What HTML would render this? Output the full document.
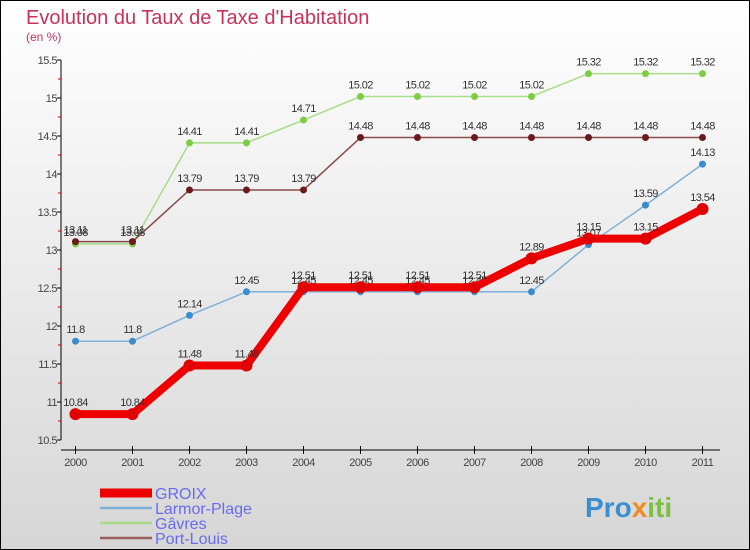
<!DOCTYPE html>
<html><head><meta charset="utf-8"><style>
body{margin:0}
#c{width:750px;height:550px;position:relative;box-sizing:border-box;border:1px solid #000;background:linear-gradient(#fff,#d6d6d6);font-family:"Liberation Sans",sans-serif;overflow:hidden}
</style></head><body>
<div id="c">
<svg id="s" width="750" height="550" style="position:absolute;left:-1px;top:-1px">
<text x="26" y="24" font-size="20" fill="#c8325a">Evolution du Taux de Taxe d'Habitation</text>
<text x="26" y="41" font-size="12" fill="#c8325a">(en %)</text>
<g id="axes"></g><g id="series"></g><g id="legend"></g>
<text x="585" y="517" font-size="28" font-weight="bold" fill="#3a8fd0">Pro<tspan fill="#f08a20">x</tspan><tspan fill="#7bc043">iti</tspan></text>
</svg></div>
<script>
const years=["2000","2001","2002","2003","2004","2005","2006","2007","2008","2009","2010","2011"];
const yTicks=[10.5,11,11.5,12,12.5,13,13.5,14,14.5,15,15.5];
const groix=[10.84,10.84,11.48,11.48,12.51,12.51,12.51,12.51,12.89,13.15,13.15,13.54];
const larmor=[11.8,11.8,12.14,12.45,12.45,12.45,12.45,12.45,12.45,13.07,13.59,14.13];
const gavres=[13.08,13.08,14.41,14.41,14.71,15.02,15.02,15.02,15.02,15.32,15.32,15.32];
const portlouis=[13.11,13.11,13.79,13.79,13.79,14.48,14.48,14.48,14.48,14.48,14.48,14.48];
const NS="http://www.w3.org/2000/svg";
const X=i=>75.5+i*57, Y=v=>440-(v-10.5)*76;
function mk(t,a,p){const e=document.createElementNS(NS,t);for(const k in a)e.setAttribute(k,a[k]);p.appendChild(e);return e;}
const ax=document.getElementById('axes');
let l=mk('line',{x1:61,y1:60,x2:61,y2:440,stroke:'#000'},ax);
l=mk('line',{x1:61,y1:450,x2:720,y2:450,stroke:'#000'},ax);
yTicks.forEach((v,i)=>{mk('line',{x1:57,x2:61,y1:Y(v),y2:Y(v),stroke:'#000'},ax);
 if(i<yTicks.length-1)mk('line',{x1:58,x2:61,y1:Y(v+0.25),y2:Y(v+0.25),stroke:'#d00'},ax);
 const t=mk('text',{x:57,y:Y(v)+4,'font-size':11,fill:'#444','text-anchor':'end','letter-spacing':'-0.5'},ax);t.textContent=String(v);
 });
years.forEach((y,i)=>{mk('line',{x1:X(i),x2:X(i),y1:446,y2:454,stroke:'#000'},ax);
 const t=mk('text',{x:X(i),y:466,'font-size':11,fill:'#444','text-anchor':'middle','letter-spacing':'-0.5'},ax);t.textContent=y;
 });
const sg=document.getElementById('series');
function series(d,col,dot,w,r,name){const g=mk('g',{},sg);
 mk('polyline',{points:d.map((v,i)=>X(i)+','+Y(v)).join(' '),fill:'none',stroke:col,'stroke-width':w,'stroke-linejoin':'round'},g);
 d.forEach((v,i)=>{const c=mk('circle',{cx:X(i),cy:Y(v),r:r,fill:dot},g);
  const t=mk('text',{x:X(i),y:Y(v)-8,'font-size':11,fill:'#333','text-anchor':'middle','letter-spacing':'-0.6'},g);t.textContent=String(v);});}
series(larmor,'#7fb0d8','#3a8ccc',1.5,3.5,'larmor-plage-series');
series(gavres,'#a8dc88','#7ccc44',1.5,3.5,'gavres-series');
series(portlouis,'#8a4a4a','#6a1a1a',1.5,3.5,'port-louis-series');
series(groix,'#ee0000','#e00000',8,6,'groix-series');
const lg=document.getElementById('legend');
[['GROIX','#ee0000',9,493],['Larmor-Plage','#7fb0d8',2.5,508],['Gâvres','#a8dc88',2.5,523],['Port-Louis','#9a6060',2.5,538]].forEach(e=>{
 const g=mk('g',{},lg);
 mk('line',{x1:100,x2:152,y1:e[3],y2:e[3],stroke:e[1],'stroke-width':e[2]},g);
 const t=mk('text',{x:155,y:e[3]+6,'font-size':16,fill:'#6a6af0'},g);t.textContent=e[0];});
</script>
</body></html>
